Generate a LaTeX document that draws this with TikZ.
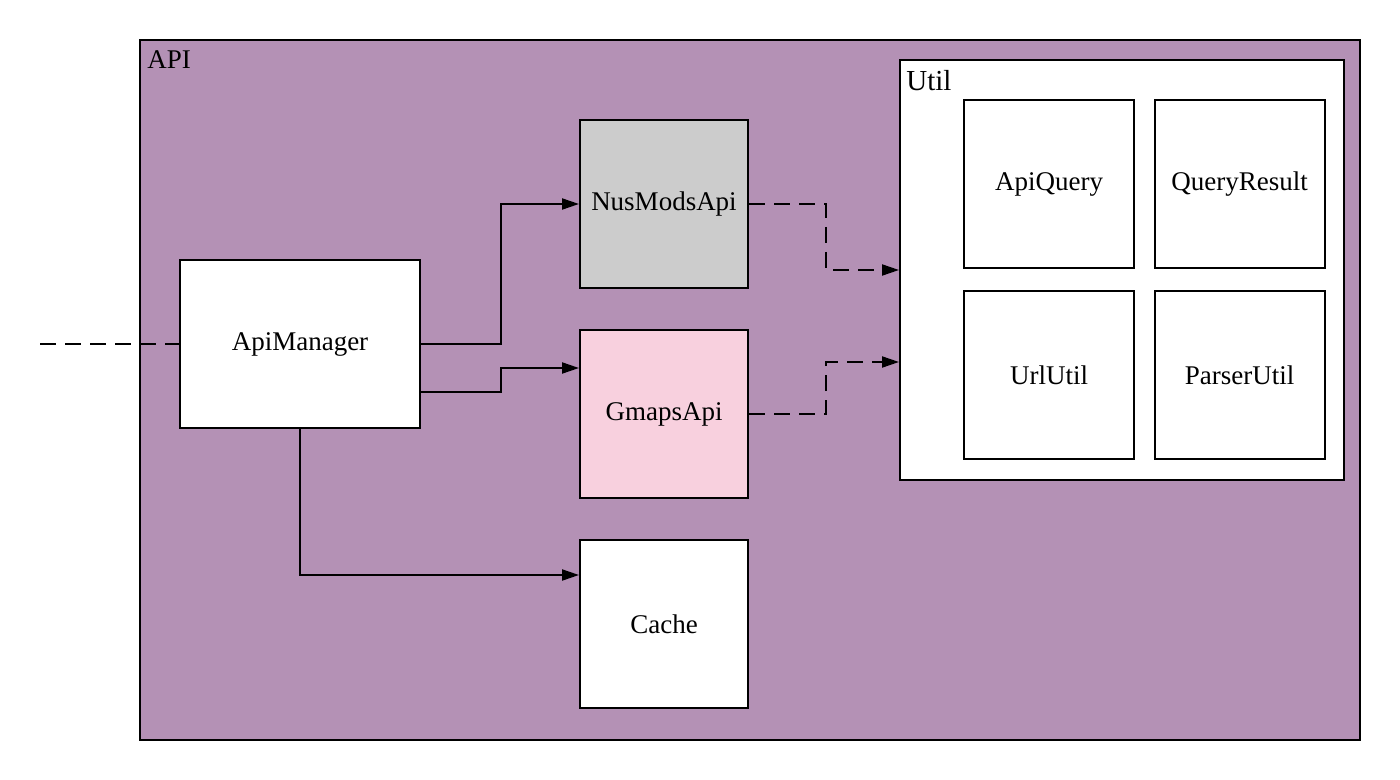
\documentclass[tikz,border=0pt]{standalone}
\usepackage{fontspec}
\setmainfont{Liberation Serif}
\usetikzlibrary{arrows.meta}
\definecolor{apipurple}{RGB}{180,145,181}
\definecolor{nusgray}{RGB}{204,204,204}
\definecolor{gmapspink}{RGB}{248,208,222}
\begin{document}
\begin{tikzpicture}[x=0.5pt,y=-0.5pt,
    box/.style={draw, line width=1pt, fill=white, inner sep=0pt,
        minimum width=84pt, minimum height=84pt,
        font=\fontsize{13.5}{16}\selectfont},
    link/.style={line width=1pt, -{Triangle[length=8.5pt,width=5.5pt]}},
    dashlink/.style={link, dash pattern=on 8pt off 4.5pt}]
    \useasboundingbox (0,0) rectangle (1400,780);

    \draw[line width=1pt, fill=apipurple] (140,40) rectangle (1360,740);
    \node[anchor=north west, inner sep=0pt, font=\fontsize{13.5}{16}\selectfont] (apilabel) at (147,50) {API};

    \node[box, minimum width=120pt] (manager) at (300,344) {ApiManager};
    \node[box, fill=nusgray] (nusmods) at (664,204) {NusModsApi};
    \node[box, fill=gmapspink] (gmaps) at (664,414) {GmapsApi};
    \node[box] (cache) at (664,624) {Cache};

    \node[box, minimum width=222pt, minimum height=210pt] (util) at (1122,270) {};
    \node[anchor=north west, inner sep=0pt, font=\fontsize{14.5}{17}\selectfont] (utillabel) at (906,70) {Util};
    \node[box, minimum width=85pt] (apiquery) at (1049,184) {ApiQuery};
    \node[box, minimum width=85pt] (queryresult) at (1239.5,184) {QueryResult};
    \node[box, minimum width=85pt] (urlutil) at (1049,375) {UrlUtil};
    \node[box, minimum width=85pt] (parserutil) at (1239.5,375) {ParserUtil};

    \coordinate (caller) at (40,344);
    \draw[line width=1pt, dash pattern=on 8pt off 4.5pt] (caller) -- (manager.west);

    \draw[link] (manager.east) -- ++(80,0) |- (nusmods.west);
    \draw[link] ([yshift=-24pt]manager.east) -- ++(80,0) |- ([yshift=23pt]gmaps.west);
    \draw[link] (manager.south) |- ([yshift=24.5pt]cache.west);

    \draw[dashlink] (nusmods.east) -- ++(77,0) |- (util.west);
    \draw[dashlink] (gmaps.east) -- ++(77,0) |- ([yshift=-46pt]util.west);
\end{tikzpicture}
\end{document}
